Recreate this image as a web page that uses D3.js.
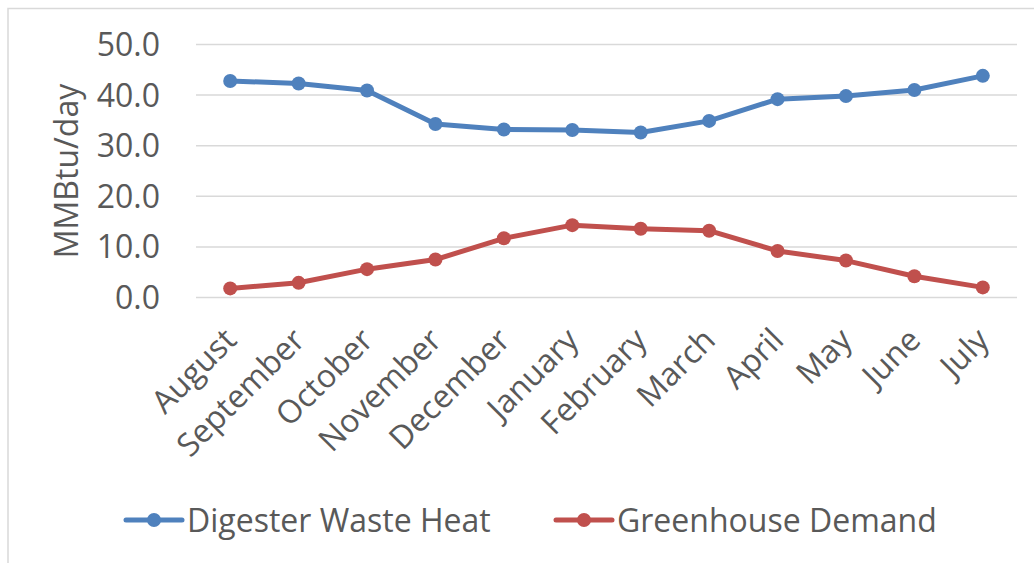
<!DOCTYPE html>
<html>
<head>
<meta charset="utf-8">
<script src="https://cdn.jsdelivr.net/npm/d3@7"></script>
<style>
  body { margin: 0; background: #fff; }
  svg { display: block; font-family: "Open Sans", sans-serif; }
</style>
</head>
<body>
<svg class="chart"></svg>
<script>
var months = ["August", "September", "October", "November", "December", "January",
  "February", "March", "April", "May", "June", "July"];
var wasteHeat = [42.8, 42.3, 40.9, 34.3, 33.2, 33.1, 32.6, 34.9, 39.2, 39.8, 41.0, 43.8];
var greenhouse = [1.8, 2.9, 5.6, 7.5, 11.7, 14.3, 13.6, 13.2, 9.2, 7.3, 4.2, 2.0];
var yTicks = [0, 10, 20, 30, 40, 50];
var seriesNames = ["Digester Waste Heat", "Greenhouse Demand"];
var colors = ["#4f81bd", "#c0504d"];

var W = 1034, H = 563;
var plotLeft = 196, plotRight = 1017, plotTop = 44.5, plotBottom = 297.5;
var textCol = "#595959";

var svg = d3.select(".chart").attr("width", W).attr("height", H);

// frame
svg.append("rect")
  .attr("x", 8).attr("y", 8.5)
  .attr("width", 1100).attr("height", 600)
  .attr("fill", "none").attr("stroke", "#d9d9d9").attr("stroke-width", 1.5);

var x = d3.scaleBand().domain(months).range([plotLeft, plotRight]);
var y = d3.scaleLinear().domain([0, 50]).range([plotBottom, plotTop]);

// gridlines
svg.append("g").selectAll("line").data(yTicks).enter().append("line")
  .attr("x1", plotLeft).attr("x2", plotRight)
  .attr("y1", function(d) { return y(d); })
  .attr("y2", function(d) { return y(d); })
  .attr("stroke", "#d9d9d9").attr("stroke-width", 1.5);

// y axis labels
svg.append("g").selectAll("text").data(yTicks).enter().append("text")
  .attr("x", 160)
  .attr("y", function(d) { return y(d); })
  .attr("dy", "0.36em")
  .attr("text-anchor", "end")
  .attr("font-size", 32)
  .attr("fill", textCol)
  .text(function(d) { return d3.format(".1f")(d); });

svg.append("text")
  .attr("transform", "translate(78,171) rotate(-90)")
  .attr("text-anchor", "middle")
  .attr("font-size", 32)
  .attr("fill", textCol)
  .text("MMBtu/day");

// x axis labels
svg.append("g").selectAll("text").data(months).enter().append("text")
  .attr("transform", function(d) {
    return "translate(" + (x(d) + x.bandwidth() / 2 + 8) + ",342) rotate(-45)";
  })
  .attr("text-anchor", "end")
  .attr("font-size", 32)
  .attr("fill", textCol)
  .text(function(d) { return d; });

// series
var cx = function(d, i) { return x(months[i]) + x.bandwidth() / 2; };
[wasteHeat, greenhouse].forEach(function(vals, k) {
  var line = d3.line()
    .x(function(d, i) { return cx(d, i); })
    .y(function(d) { return y(d); });
  svg.append("path")
    .datum(vals)
    .attr("d", line)
    .attr("fill", "none")
    .attr("stroke", colors[k])
    .attr("stroke-width", 5)
    .attr("stroke-linejoin", "round");
  svg.append("g").selectAll("circle").data(vals).enter().append("circle")
    .attr("cx", cx)
    .attr("cy", function(d) { return y(d); })
    .attr("r", 7)
    .attr("fill", colors[k]);
});

// legend
var legendX = [126, 556];
seriesNames.forEach(function(name, k) {
  var g = svg.append("g").attr("transform", "translate(" + legendX[k] + ",520)");
  g.append("line")
    .attr("x1", 0).attr("x2", 56)
    .attr("stroke", colors[k]).attr("stroke-width", 5)
    .attr("stroke-linecap", "round");
  g.append("circle").attr("cx", 28).attr("r", 7).attr("fill", colors[k]);
  g.append("text")
    .attr("x", 61).attr("dy", "0.36em")
    .attr("font-size", 32)
    .attr("fill", textCol)
    .text(name);
});
</script>
</body>
</html>
